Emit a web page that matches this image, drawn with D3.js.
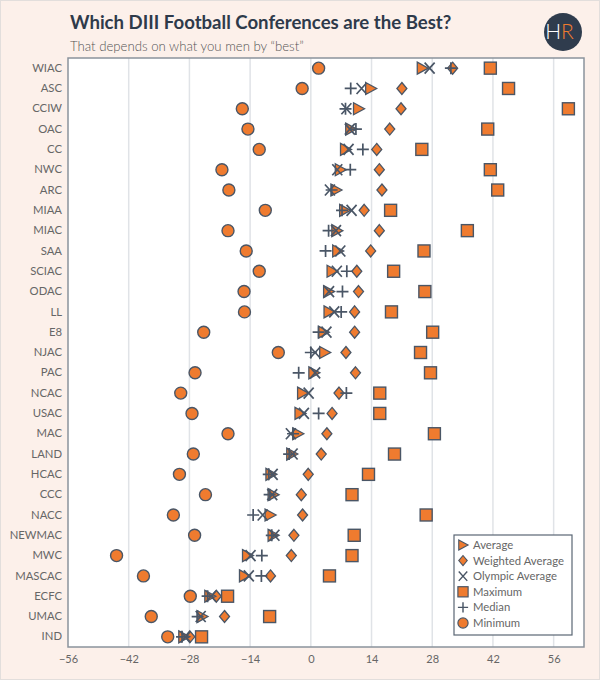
<!DOCTYPE html>
<html>
<head>
<meta charset="utf-8">
<script src="https://cdn.jsdelivr.net/npm/d3@7"></script>
<style>
html,body{margin:0;padding:0;background:#fcf0ea;}
svg{display:block;}
</style>
</head>
<body>
<svg id="chart" width="600" height="680"></svg>
<script>
const conferences = ["WIAC","ASC","CCIW","OAC","CC","NWC","ARC","MIAA","MIAC","SAA","SCIAC","ODAC","LL","E8","NJAC","PAC","NCAC","USAC","MAC","LAND","HCAC","CCC","NACC","NEWMAC","MWC","MASCAC","ECFC","UMAC","IND"];
const average =         [25.7,13.8,11.0,9.2,8.0,6.8,5.8,7.8,6.0,6.2,4.9,4.1,4.2,2.9,3.2,0.7,-1.9,-2.5,-3.0,-4.4,-9.2,-8.7,-9.4,-8.7,-14.6,-15.3,-23.3,-25.1,-29.3];
const weightedAverage = [32.7,21.0,20.8,18.2,15.2,15.8,16.4,12.3,15.8,13.8,10.6,11.0,10.1,10.1,8.1,10.3,6.5,4.9,3.7,2.4,-0.6,-2.2,-1.9,-3.9,-4.5,-9.3,-21.8,-19.9,-27.9];
const olympicAverage =  [27.4,11.7,8.2,9.0,8.7,6.1,4.4,9.4,5.8,6.8,6.0,4.2,5.4,3.6,1.0,1.0,-0.5,-1.6,-4.6,-4.2,-8.8,-8.9,-11.1,-8.4,-13.9,-14.3,-23.0,-25.4,-28.9];
const maximum =         [41.4,45.6,59.4,40.8,25.6,41.4,43.1,18.4,36.1,26.1,19.1,26.3,18.6,28.1,25.3,27.6,15.9,15.9,28.5,19.3,13.3,9.5,26.6,10.0,9.5,4.3,-19.2,-9.5,-25.2];
const median =          [32.3,9.2,8.0,10.4,12.0,9.1,4.8,7.2,4.1,3.4,8.3,7.3,7.0,1.8,0.0,-2.8,8.2,1.8,-4.1,-5.0,-9.7,-9.5,-13.3,-9.0,-11.3,-11.4,-23.8,-26.1,-29.7];
const minimum =         [1.8,-2.0,-15.8,-14.5,-11.9,-20.5,-18.9,-10.5,-19.1,-14.9,-11.9,-15.4,-15.3,-24.7,-7.5,-26.7,-30.0,-27.4,-19.1,-27.1,-30.3,-24.3,-31.7,-26.8,-44.8,-38.6,-27.8,-36.8,-33.0];
const xTicks = [-56,-42,-28,-14,0,14,28,42,56];
const seriesNames = ["Average","Weighted Average","Olympic Average","Maximum","Median","Minimum"];

const svg = d3.select("#chart");
const W = 600, H = 680;
const orange = "#ef7b2f", dark = "#4a5666", navy = "#2e3a4a";
const font = "Lato, 'Open Sans', sans-serif";

const plot = {left: 68, right: 584, top: 58, bottom: 647};
const x = d3.scaleLinear().domain([-56, 63]).range([plot.left, plot.right]);
const y = d3.scaleBand().domain(conferences).range([plot.top, plot.bottom]).padding(0);

// outer frame
svg.append("rect").attr("x",0.5).attr("y",0.5).attr("width",W-1).attr("height",H-1)
  .attr("fill","#fcf0ea").attr("stroke","#e2dedc").attr("stroke-width",1);

// title
svg.append("text").attr("x",70).attr("y",29).text("Which DIII Football Conferences are the Best?")
  .attr("font-family",font).attr("font-weight",700).attr("font-size",18.6).attr("fill",navy);
svg.append("text").attr("x",70).attr("y",51).text("That depends on what you men by \u201Cbest\u201D")
  .attr("font-family",font).attr("font-weight",300).attr("font-size",13.2).attr("fill","#555");

// logo
const logo = svg.append("g").attr("transform","translate(563,32)");
logo.append("circle").attr("r",19).attr("fill","#2f3c4d");
logo.append("text").attr("x",-2).attr("y",7).attr("text-anchor","end").text("H")
  .attr("font-family",font).attr("font-weight",300).attr("font-size",21).attr("fill","#fff");
logo.append("text").attr("x",-2).attr("y",7).attr("text-anchor","start").text("R")
  .attr("font-family",font).attr("font-weight",300).attr("font-size",21).attr("fill",orange);

// plot background
svg.append("rect").attr("x",plot.left).attr("y",plot.top)
  .attr("width",plot.right-plot.left).attr("height",plot.bottom-plot.top).attr("fill","#fff");

// gridlines
svg.append("g").selectAll("line").data(xTicks.filter(d=>d>-56)).join("line")
  .attr("x1",d=>x(d)).attr("x2",d=>x(d)).attr("y1",plot.top).attr("y2",plot.bottom)
  .attr("stroke","#e0e3e7").attr("stroke-width",1.5);

// frame
svg.append("rect").attr("x",plot.left).attr("y",plot.top)
  .attr("width",plot.right-plot.left).attr("height",plot.bottom-plot.top)
  .attr("fill","none").attr("stroke","#8a939c").attr("stroke-width",1.5);

// x axis
const xAxis = d3.axisBottom(x).tickValues(xTicks).tickSize(0).tickPadding(8);
const gx = svg.append("g").attr("transform",`translate(0,${plot.bottom})`).call(xAxis);
gx.select(".domain").remove();
gx.selectAll("text").attr("font-family",font).attr("font-size",11).attr("fill","#666");

// y axis
const yAxis = d3.axisLeft(y).tickSize(0).tickPadding(6);
const gy = svg.append("g").attr("transform",`translate(${plot.left},0)`).call(yAxis);
gy.select(".domain").remove();
gy.selectAll("text").attr("font-family",font).attr("font-size",11.3).attr("fill","#666");

// marker shapes
const shapes = {
  "Maximum": g => g.append("rect").attr("x",-6).attr("y",-6).attr("width",12).attr("height",12)
      .attr("fill",orange).attr("stroke",dark).attr("stroke-width",1.4),
  "Minimum": g => g.append("circle").attr("r",6).attr("fill",orange).attr("stroke",dark).attr("stroke-width",1.4),
  "Weighted Average": g => g.append("path").attr("d","M0,-6L5,0L0,6L-5,0Z")
      .attr("fill",orange).attr("stroke",dark).attr("stroke-width",1.3),
  "Average": g => g.append("path").attr("d","M-5,-6L6,0L-5,6Z")
      .attr("fill",orange).attr("stroke",dark).attr("stroke-width",1.3),
  "Olympic Average": g => g.append("path").attr("d","M-5,-5.5L5,5.5M-5,5.5L5,-5.5")
      .attr("fill","none").attr("stroke",dark).attr("stroke-width",1.7),
  "Median": g => g.append("path").attr("d","M-6,0L6,0M0,-6L0,6")
      .attr("fill","none").attr("stroke",dark).attr("stroke-width",1.7)
};
const seriesData = {
  "Average": average, "Weighted Average": weightedAverage, "Olympic Average": olympicAverage,
  "Maximum": maximum, "Median": median, "Minimum": minimum
};
const drawOrder = ["Maximum","Minimum","Weighted Average","Average","Olympic Average","Median"];
drawOrder.forEach(name => {
  const vals = seriesData[name];
  svg.append("g").selectAll("g").data(conferences).join("g")
    .attr("transform",(c,i)=>`translate(${x(vals[i])},${y(c)+y.bandwidth()/2})`)
    .each(function(){ shapes[name](d3.select(this)); });
});

// legend
const lg = svg.append("g").attr("transform","translate(454,535)");
lg.append("rect").attr("width",118).attr("height",100).attr("fill","#fff")
  .attr("stroke","#5a6674").attr("stroke-width",1.2);
seriesNames.forEach((n,i)=>{
  const row = lg.append("g").attr("transform",`translate(9,${10+i*15.6})`);
  const s = row.append("g").attr("transform","scale(0.85)");
  shapes[n](s);
  row.append("text").attr("x",10).attr("y",4).text(n)
    .attr("font-family",font).attr("font-size",11.3).attr("fill","#666");
});
</script>
</body>
</html>
